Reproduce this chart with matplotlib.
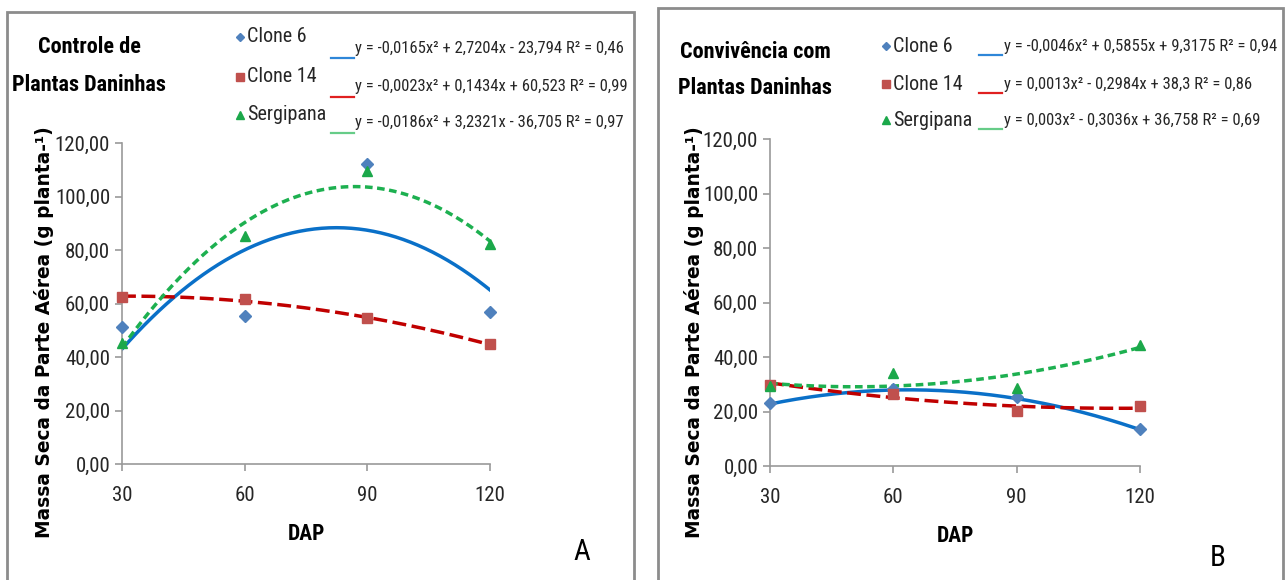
import numpy as np
import matplotlib.pyplot as plt
from matplotlib.lines import Line2D
from matplotlib.patches import Rectangle
from matplotlib.ticker import FuncFormatter

# DAP (dias após plantio)
dap = [30, 60, 90, 120]
series = ['Clone 6', 'Clone 14', 'Sergipana']

# A - controle de plantas daninhas
a_clone6 = [51.3, 55.3, 112.3, 56.7]
a_clone14 = [62.5, 61.7, 54.4, 44.7]
a_sergipana = [45.2, 85.2, 109.6, 82.3]
a_coef = [(-0.0165, 2.7204, -23.794), (-0.0023, 0.1434, 60.523), (-0.0186, 3.2321, -36.705)]
a_eq = ['y = -0,0165x² + 2,7204x - 23,794 R² = 0,46',
        'y = -0,0023x² + 0,1434x + 60,523 R² = 0,99',
        'y = -0,0186x² + 3,2321x - 36,705 R² = 0,97']

# B - convivência com plantas daninhas
b_clone6 = [23.1, 28.3, 25.4, 13.7]
b_clone14 = [29.8, 26.4, 20.1, 21.9]
b_sergipana = [29.2, 34.2, 28.6, 44.4]
b_coef = [(-0.0046, 0.5855, 9.3175), (0.0013, -0.2984, 38.3), (0.003, -0.3036, 36.758)]
b_eq = ['y = -0,0046x² + 0,5855x + 9,3175 R² = 0,94',
        'y = 0,0013x² - 0,2984x + 38,3 R² = 0,86',
        'y = 0,003x² - 0,3036x + 36,758 R² = 0,69']

mk_colors = ['#4F81BD', '#C0504D', '#1BA84A']
ln_colors = ['#0A70C8', '#C00000', '#1DB050']
leg_colors = ['#2E86D8', '#E02020', '#66CC88']
markers = ['D', 's', '^']
msizes = [6, 7.5, 7.5]
dashes = [None, (4, 1.6), (2.2, 1.3)]

narrow = ['Roboto Condensed', 'DejaVu Sans']
W, H = 1285, 580
fig = plt.figure(figsize=(W / 100, H / 100), dpi=100)


def fx(px):
    return px / W


def fy(py):
    return 1 - py / H


def panel(box, rect, data, coefs, eqs, title, letter, leg, ylab_x):
    # moldura cinza do painel
    x0, y0, x1 = box
    fig.add_artist(Rectangle((fx(x0), -0.05), fx(x1 - x0), fy(y0) + 0.05,
                             transform=fig.transFigure, fill=False,
                             edgecolor='#8C8C8C', lw=2))
    ax = fig.add_axes(rect)
    xs = np.linspace(30, 120, 200)
    for i in range(3):
        a, b, c = coefs[i]
        ln, = ax.plot(xs, a * xs ** 2 + b * xs + c, color=ln_colors[i], lw=2.5,
                      zorder=2)
        if dashes[i]:
            ln.set_dashes(dashes[i])
        ax.plot(dap, data[i], linestyle='none', marker=markers[i],
                color=mk_colors[i], ms=msizes[i], zorder=3, clip_on=False)
    ax.set_xlim(30, 120)
    ax.set_ylim(0, 120)
    ax.set_xticks(dap)
    ax.set_yticks(range(0, 121, 20))
    ax.yaxis.set_major_formatter(FuncFormatter(lambda v, p: f'{v:.2f}'.replace('.', ',')))
    for s in ['top', 'right']:
        ax.spines[s].set_visible(False)
    for s in ['left', 'bottom']:
        ax.spines[s].set_color('#9A9A9A')
        ax.spines[s].set_linewidth(1.2)
    ax.tick_params(colors='#9A9A9A', length=5, width=1.2, labelcolor='#262626',
                   labelsize=15)
    ax.tick_params(axis='x', pad=11)
    for lab in ax.get_xticklabels() + ax.get_yticklabels():
        lab.set_family(narrow)
    ax.set_xlabel('DAP', family=narrow, fontweight='bold', fontsize=15.5, labelpad=13)
    ax.set_ylabel('Massa Seca da Parte Aérea (g planta-¹)', fontsize=13.4,
                  fontweight='bold')
    ax.yaxis.set_label_coords(ylab_x, 0.41)

    tx, t1, t2 = title[1], title[2], title[3]
    fig.text(fx(tx), fy(t1), title[0][0], ha='center', va='center', family=narrow,
             fontweight='bold', fontsize=16)
    fig.text(fx(tx), fy(t2), title[0][1], ha='center', va='center', family=narrow,
             fontweight='bold', fontsize=16)
    fig.text(fx(letter[1]), fy(letter[2]), letter[0], ha='center', va='center',
             fontsize=21, family=narrow)

    mx, nx, ux0, ux1, ex, rows, erows, uoff = leg
    for i in range(3):
        fig.add_artist(Line2D([fx(mx)], [fy(rows[i])], marker=markers[i],
                              color=mk_colors[i], ms=msizes[i] - 1.5,
                              transform=fig.transFigure))
        fig.text(fx(nx), fy(rows[i]), series[i], ha='left', va='center',
                 family=narrow, fontsize=14.5, color='#262626')
        fig.add_artist(Line2D([fx(ux0), fx(ux1)], [fy(erows[i] + uoff)] * 2,
                              color=leg_colors[i], lw=1.6,
                              transform=fig.transFigure))
        fig.text(fx(ex), fy(erows[i]), eqs[i], ha='left', va='center',
                 family=narrow, fontsize=12, color='#262626')
    return ax


panel((7, 12, 634), [fx(122), fy(464), fx(368), 321 / H],
      [a_clone6, a_clone14, a_sergipana], a_coef, a_eq,
      (('Controle de', 'Plantas Daninhas'), 89, 47, 85), ('A', 582, 552),
      (240, 247, 331, 354, 355, [37, 77, 115], [48, 87, 123], 10), -0.184)

panel((658, 8, 1283), [fx(770), fy(466), fx(370), 327 / H],
      [b_clone6, b_clone14, b_sergipana], b_coef, b_eq,
      (('Convivência com', 'Plantas Daninhas'), 755, 52, 88), ('B', 1218, 558),
      (886, 893, 979, 1002, 1004, [46, 84, 120], [46, 84, 120], 9), -0.178)

fig.savefig('out.png', dpi=100)
